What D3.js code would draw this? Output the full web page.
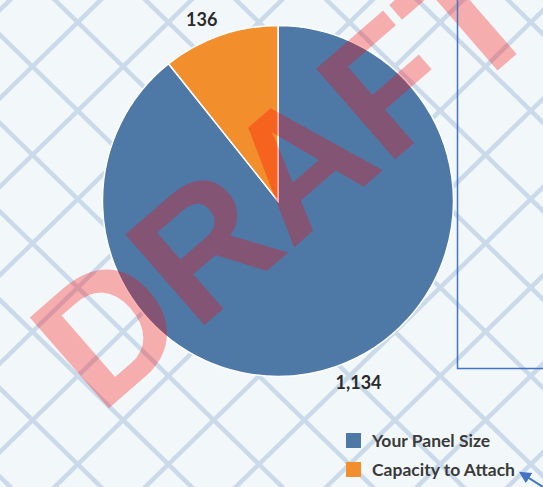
<!DOCTYPE html>
<html>
<head>
<meta charset="utf-8">
<script src="https://cdn.jsdelivr.net/npm/d3@7"></script>
<style>
html, body { margin: 0; padding: 0; background: #F2F8F9; }
svg { display: block; }
</style>
</head>
<body>
<div class="chart"></div>
<script>
const categories = ["Your Panel Size", "Capacity to Attach"];
const values = [1134, 136];
const sliceColors = ["#4E79A7", "#F28E2B"];
const watermark = "DRAFT";

const width = 543, height = 487;
const cx = 278, cy = 201, radius = 175.5;

let svg = d3.select(".chart").append("svg")
  .attr("width", width)
  .attr("height", height);

svg.append("rect")
  .attr("width", width)
  .attr("height", height)
  .attr("fill", "#F2F8F9");

// background lattice (diamonds)
let stepX = 90.6, halfX = 45.3, halfY = 44.2;
let lattice = svg.append("g")
  .attr("stroke", "#CADAEB")
  .attr("stroke-width", 4.5)
  .attr("fill", "none");

d3.range(-7, 14).forEach(k => {
  let x0 = 32.5 + k * stepX, y0 = 66.5;
  lattice.append("line")
    .attr("x1", x0 - 12 * halfX).attr("y1", y0 + 12 * halfY)
    .attr("x2", x0 + 12 * halfX).attr("y2", y0 - 12 * halfY);
  lattice.append("line")
    .attr("x1", x0 - 12 * halfX).attr("y1", y0 - 12 * halfY)
    .attr("x2", x0 + 12 * halfX).attr("y2", y0 + 12 * halfY);
});

// pie
let pie = d3.pie().sort(null).value(d => d);
let arcs = pie(values);
let arc = d3.arc().innerRadius(0).outerRadius(radius);

let pieG = svg.append("g").attr("transform", `translate(${cx},${cy})`);

pieG.selectAll("path")
  .data(arcs)
  .enter()
  .append("path")
  .attr("d", arc)
  .attr("fill", (d, i) => sliceColors[i])
  .attr("stroke", "#ffffff")
  .attr("stroke-width", 1.5);

// outside-end labels
let labelArc = d3.arc().innerRadius(radius + 8).outerRadius(radius + 8);
let fmt = d3.format(",");

pieG.selectAll("text")
  .data(arcs)
  .enter()
  .append("text")
  .attr("x", d => labelArc.centroid(d)[0] + (labelArc.centroid(d)[0] < 0 ? 0 : -3))
  .attr("y", d => labelArc.centroid(d)[1] + (labelArc.centroid(d)[1] < 0 ? -2 : 15))
  .attr("text-anchor", d => labelArc.centroid(d)[0] < 0 ? "end" : "start")
  .attr("font-family", "Lato, 'Open Sans', sans-serif")
  .attr("font-weight", "bold")
  .attr("font-size", 18)
  .attr("fill", "#2b2b2b")
  .text(d => fmt(d.data));

// watermark
svg.append("text")
  .attr("transform", "translate(100,416) rotate(-41)")
  .attr("font-family", "'Liberation Sans', Arial, sans-serif")
  .attr("font-weight", "bold")
  .attr("font-size", 175)
  .attr("fill", "rgba(255,0,0,0.3)")
  .text(watermark);

// frame of neighbouring panel
svg.append("path")
  .attr("d", `M457.5,0V368.5H${width}`)
  .attr("fill", "none")
  .attr("stroke", "#4472C4")
  .attr("stroke-width", 1.5);

// legend
let legend = svg.append("g").attr("transform", "translate(346,433)");
let items = legend.selectAll("g")
  .data(categories)
  .enter()
  .append("g")
  .attr("transform", (d, i) => `translate(0,${i * 29})`);

items.append("rect")
  .attr("width", 15)
  .attr("height", 15)
  .attr("fill", (d, i) => sliceColors[i]);

items.append("text")
  .attr("x", 26)
  .attr("y", 14)
  .attr("font-family", "Lato, 'Open Sans', sans-serif")
  .attr("font-weight", "bold")
  .attr("font-size", 17.5)
  .attr("fill", "#3a3a3a")
  .text(d => d);

// pointer arrow
svg.append("defs").append("marker")
  .attr("id", "head")
  .attr("viewBox", "0 0 10 10")
  .attr("refX", 8).attr("refY", 5)
  .attr("markerWidth", 6).attr("markerHeight", 6)
  .attr("orient", "auto")
  .append("path")
  .attr("d", "M0,0L10,5L0,10z")
  .attr("fill", "#4472C4");

svg.append("line")
  .attr("x1", width).attr("y1", 487)
  .attr("x2", 521).attr("y2", 473)
  .attr("stroke", "#4472C4")
  .attr("stroke-width", 2)
  .attr("marker-end", "url(#head)");
</script>
</body>
</html>
